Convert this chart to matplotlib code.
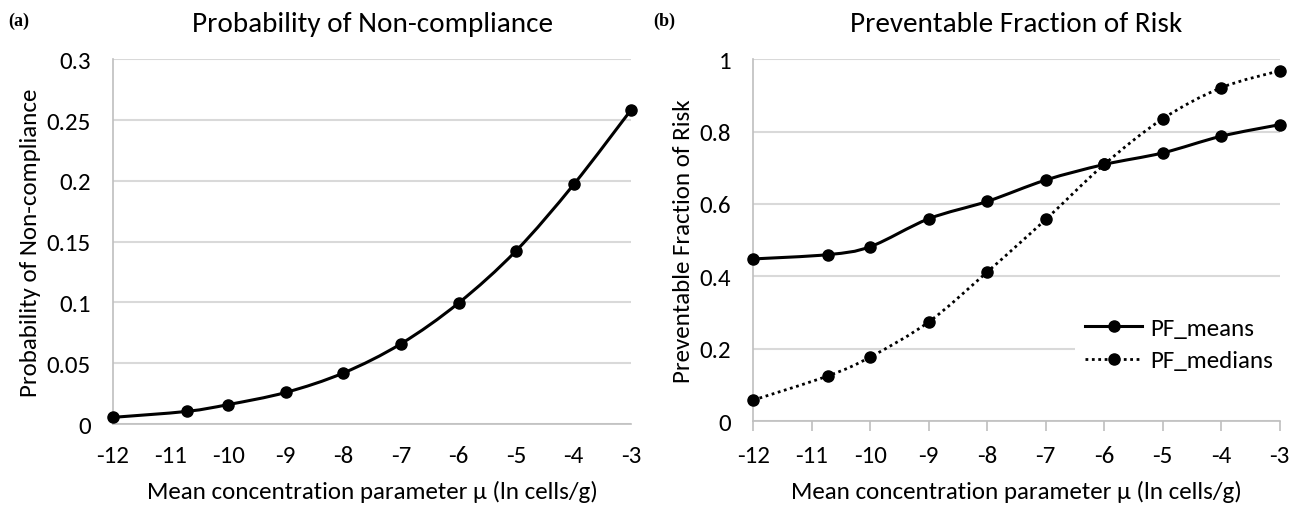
import numpy as np
import matplotlib
matplotlib.use("Agg")
import matplotlib.pyplot as plt
from matplotlib.path import Path
from matplotlib.patches import PathPatch
from matplotlib.lines import Line2D

plt.rcParams["font.family"] = ["Carlito", "Lato", "DejaVu Sans"]
plt.rcParams["axes.unicode_minus"] = False

# Data
mu = [-12, -10.72, -10, -9, -8, -7, -6, -5, -4, -3]
p_noncompliance = [0.0055, 0.0104, 0.016, 0.026, 0.042, 0.066, 0.0995, 0.1425, 0.197, 0.2586]
pf_means = [0.448, 0.460, 0.482, 0.559, 0.607, 0.666, 0.709, 0.741, 0.787, 0.819]
pf_medians = [0.058, 0.125, 0.177, 0.274, 0.412, 0.557, 0.709, 0.835, 0.921, 0.968]
x_ticks = [-12, -11, -10, -9, -8, -7, -6, -5, -4, -3]

GRID = "#d9d9d9"
FS = 18


def smooth_path(x, y):
    """Excel-style smoothed line: Catmull-Rom spline as cubic Bezier segments."""
    p = np.column_stack([x, y]).astype(float)
    pts = np.vstack([p[0], p, p[-1]])
    verts = [p[0]]
    codes = [Path.MOVETO]
    for i in range(1, len(pts) - 2):
        c1 = pts[i] + (pts[i + 1] - pts[i - 1]) / 6
        c2 = pts[i + 1] - (pts[i + 2] - pts[i]) / 6
        verts += [c1, c2, pts[i + 1]]
        codes += [Path.CURVE4] * 3
    return Path(verts, codes)


def style_axes(ax, ymax, ystep, ticks_out):
    ax.set_xlim(-12, -3)
    ax.set_ylim(0, ymax)
    ax.set_xticks(x_ticks)
    ax.set_yticks(np.arange(0, ymax + ystep / 2, ystep))
    ax.yaxis.set_major_formatter(plt.FuncFormatter(lambda v, _: f"{round(v, 4):g}"))
    ax.grid(axis="y", color=GRID, linewidth=1.5)
    ax.set_axisbelow(True)
    for s in ["top", "right"]:
        ax.spines[s].set_visible(False)
    for s in ["left", "bottom"]:
        ax.spines[s].set_color("#bfbfbf")
        ax.spines[s].set_linewidth(1.2)
    ax.tick_params(axis="y", length=0, labelsize=FS, pad=16)
    ax.tick_params(axis="x", length=7 if ticks_out else 0, color="#bfbfbf",
                   width=1.2, labelsize=FS, pad=15 if not ticks_out else 10)
    ax.set_xlabel("Mean concentration parameter μ (ln cells/g)", fontsize=FS, labelpad=10)


fig = plt.figure(figsize=(12.99, 5.06), dpi=100)
ax_a = fig.add_axes([0.087, 0.160, 0.399, 0.721])
ax_b = fig.add_axes([0.580, 0.166, 0.405, 0.715])

# (a) Probability of non-compliance
style_axes(ax_a, 0.3, 0.05, False)
ax_a.add_patch(PathPatch(smooth_path(mu, p_noncompliance), fill=False,
                         edgecolor="black", linewidth=2.2, zorder=3))
ax_a.plot(mu, p_noncompliance, "o", color="black", markersize=8, zorder=4, clip_on=False)
ax_a.set_ylabel("Probability of Non-compliance", fontsize=FS, labelpad=4)
ax_a.set_title("Probability of Non-compliance", fontsize=21, pad=20)

# (b) Preventable fraction of risk
style_axes(ax_b, 1.0, 0.2, True)
ax_b.add_patch(PathPatch(smooth_path(mu, pf_means), fill=False,
                         edgecolor="black", linewidth=2.2, zorder=3))
ax_b.plot(mu, pf_means, "o", color="black", markersize=8, zorder=4, clip_on=False)
ax_b.add_patch(PathPatch(smooth_path(mu, pf_medians), fill=False, edgecolor="black",
                         linewidth=2.0, linestyle=(0, (1, 1.3)), zorder=3))
ax_b.plot(mu, pf_medians, "o", color="black", markersize=8, zorder=4, clip_on=False)
ax_b.set_ylabel("Preventable Fraction of Risk", fontsize=FS, labelpad=4)
ax_b.set_title("Preventable Fraction of Risk", fontsize=21, pad=20)

handles = [
    Line2D([], [], color="black", linewidth=2.2, marker="o", markersize=8),
    Line2D([], [], color="black", linewidth=2.0, linestyle=(0, (1, 1.3)), marker="o", markersize=8),
]
leg = ax_b.legend(handles, ["PF_means", "PF_medians"], loc="lower right",
                  bbox_to_anchor=(1.03, 0.075), fontsize=FS, frameon=True,
                  handlelength=2.3, handletextpad=0.3, borderpad=0.4,
                  labelspacing=0.45)
leg.get_frame().set_edgecolor("none")
leg.get_frame().set_facecolor("white")
leg.get_frame().set_alpha(1)

fig.text(0.006, 0.948, "(a)", fontsize=13, fontweight="bold", family="Liberation Serif")
fig.text(0.503, 0.948, "(b)", fontsize=13, fontweight="bold", family="Liberation Serif")

fig.savefig("out.png", dpi=100)
